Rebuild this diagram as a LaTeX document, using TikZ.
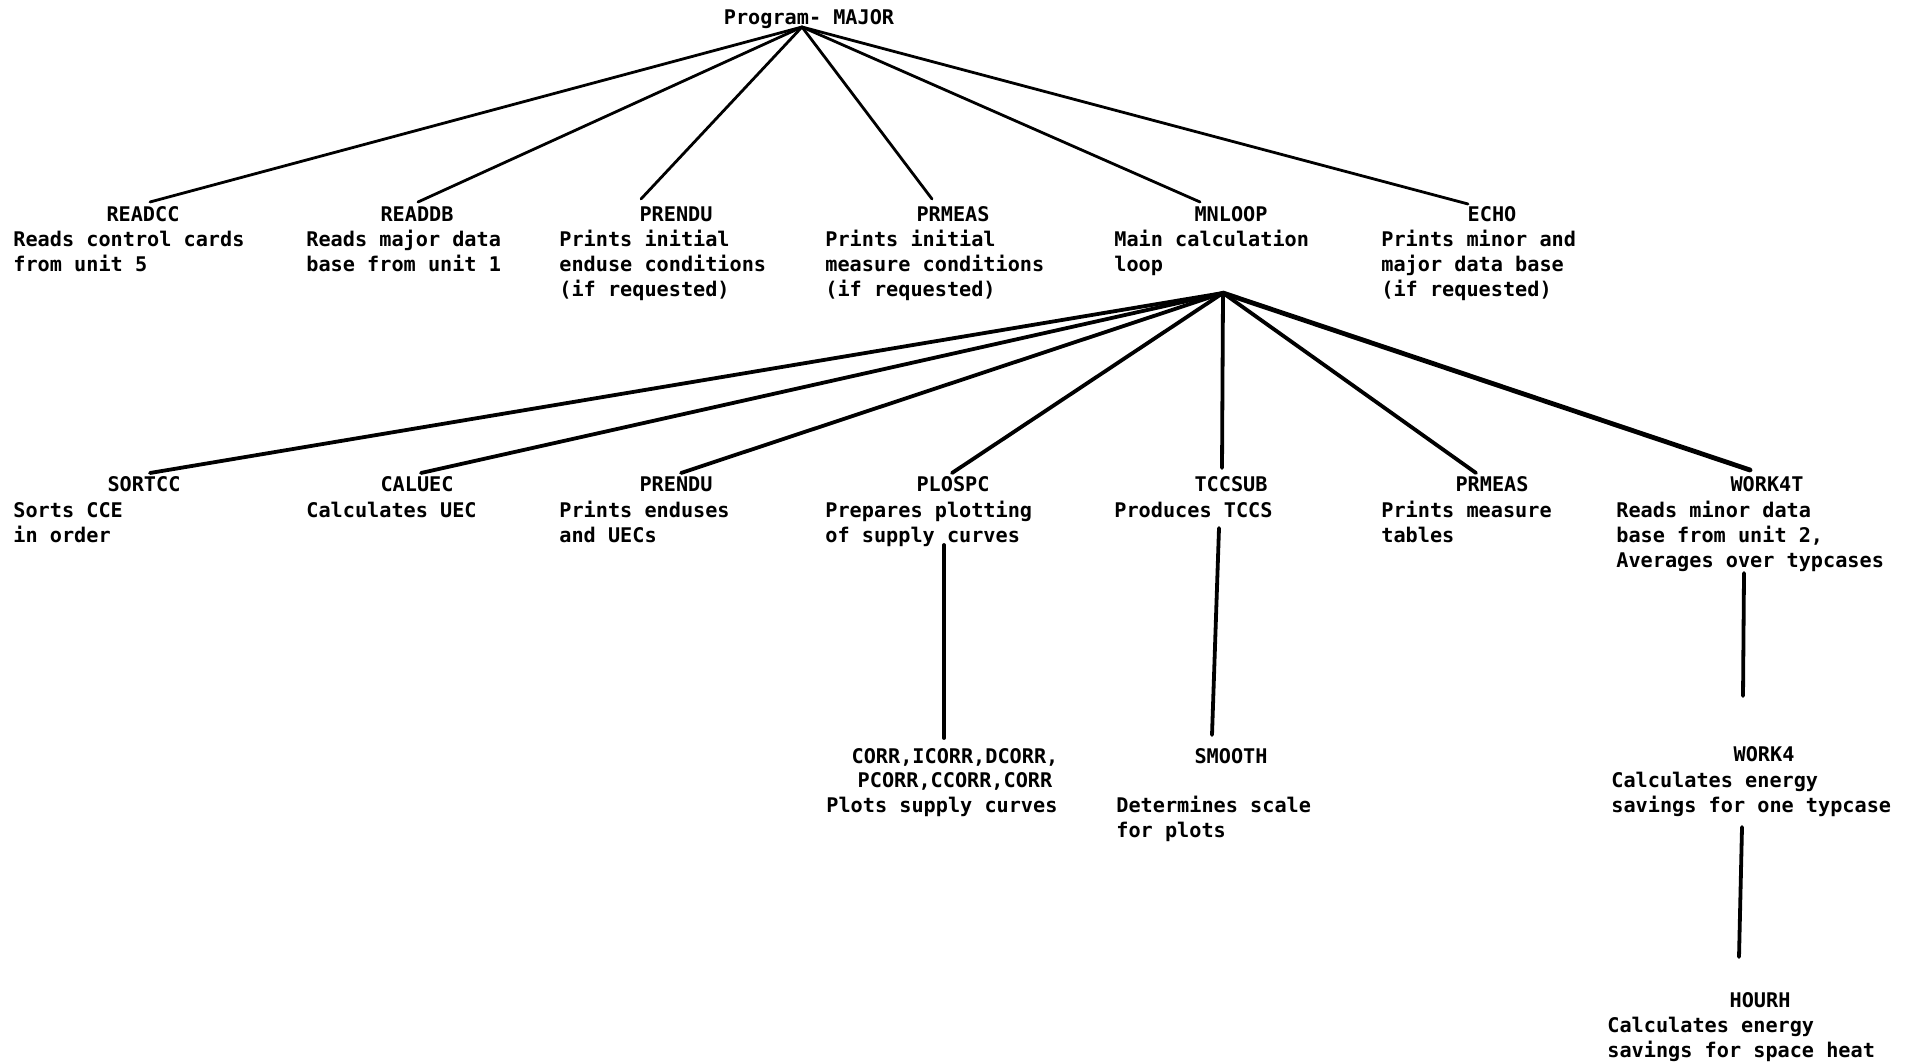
\documentclass[tikz,border=0pt]{standalone}
\usepackage{fontspec}
\setmonofont{DejaVu Sans Mono}
\newcommand\ml[1]{\vtop{\baselineskip=12.5pt\lineskiplimit=-50pt\lineskip=0pt\halign{##\hfil\cr#1\crcr}}}
\newcommand\mlc[1]{\vtop{\baselineskip=12.2pt\lineskiplimit=-50pt\lineskip=0pt\halign{\hfil##\hfil\cr#1\crcr}}}
\begin{document}
\begin{tikzpicture}[x=0.5pt,y=-0.5pt,
  font=\ttfamily\bfseries\fontsize{10.1pt}{12.5pt}\selectfont,
  ttl/.style={anchor=base, inner sep=0pt},
  dsc/.style={anchor=base west, inner sep=0pt},
  conn/.style={line width=1.4pt, line cap=round},
  connb/.style={line width=1.9pt, line cap=round}]
\fill[white] (0,0) rectangle (1915,1063);
\useasboundingbox (0,0) rectangle (1915,1063);

% root
\node[ttl] (major) at (809,25) {Program- MAJOR};
\coordinate (pA) at (802,27);

% level 1
\node[ttl] (readcc) at (143,222) {READCC};
\node[dsc] (readccd) at (13,247) {\ml{Reads control cards\cr from unit 5}};
\node[ttl] (readdb) at (417,222) {READDB};
\node[dsc] (readdbd) at (306,247) {\ml{Reads major data\cr base from unit 1}};
\node[ttl] (prendu) at (676,222) {PRENDU};
\node[dsc] (prendud) at (559,247) {\ml{Prints initial\cr enduse conditions\cr (if requested)}};
\node[ttl] (prmeas) at (953,222) {PRMEAS};
\node[dsc] (prmeasd) at (825,247) {\ml{Prints initial\cr measure conditions\cr (if requested)}};
\node[ttl] (mnloop) at (1231,222) {MNLOOP};
\node[dsc] (mnloopd) at (1114,247) {\ml{Main calculation\cr loop}};
\node[ttl] (echo) at (1492,222) {ECHO};
\node[dsc] (echod) at (1381,247) {\ml{Prints minor and\cr major data base\cr (if requested)}};

\coordinate (e-readcc) at (150,202);
\coordinate (e-readdb) at (418,202);
\coordinate (e-prendu) at (641,199);
\coordinate (e-prmeas) at (932,199);
\coordinate (e-mnloop) at (1200,202);
\coordinate (e-echo) at (1468,204);
\foreach \e in {readcc,readdb,prendu,prmeas,mnloop,echo}
  \draw[conn] (pA) -- (e-\e);

% level 2
\coordinate (pM) at (1223,293);
\node[ttl] (sortcc) at (144,492) {SORTCC};
\node[dsc] (sortccd) at (13,517) {\ml{Sorts CCE\cr in order}};
\node[ttl] (caluec) at (417,492) {CALUEC};
\node[dsc] (caluecd) at (306,517) {\ml{Calculates UEC}};
\node[ttl] (prendub) at (676,492) {PRENDU};
\node[dsc] (prendubd) at (559,517) {\ml{Prints enduses\cr and UECs}};
\node[ttl] (plospc) at (953,492) {PLOSPC};
\node[dsc] (plospcd) at (825,517) {\ml{Prepares plotting\cr of supply curves}};
\node[ttl] (tccsub) at (1231,492) {TCCSUB};
\node[dsc] (tccsubd) at (1114,517) {\ml{Produces TCCS}};
\node[ttl] (prmeasb) at (1492,492) {PRMEAS};
\node[dsc] (prmeasbd) at (1381,517) {\ml{Prints measure\cr tables}};
\node[ttl] (work4t) at (1767,492) {WORK4T};
\node[dsc] (work4td) at (1616,517) {\ml{Reads minor data\cr base from unit 2,\cr Averages over typcases}};

\coordinate (e-sortcc) at (150,473);
\coordinate (e-caluec) at (421,473);
\coordinate (e-prendub) at (681,473);
\coordinate (e-plospc) at (952,473);
\coordinate (e-tccsub) at (1222,468);
\coordinate (e-prmeasb) at (1476,473);
\coordinate (e-work4t) at (1750,470);
\foreach \e in {sortcc,caluec,prendub,plospc,tccsub,prmeasb}
  \draw[connb] (pM) -- (e-\e);
\draw[line width=2.4pt, line cap=round] (pM) -- (e-work4t);

% level 3
\node[ttl] (corr) at (955,763) {\mlc{CORR,ICORR,DCORR,\cr PCORR,CCORR,CORR}};
\node[dsc] (corrd) at (826,812) {\ml{Plots supply curves}};
\node[ttl] (smooth) at (1231,763) {SMOOTH};
\node[dsc] (smoothd) at (1116,812) {\ml{Determines scale\cr for plots}};
\node[ttl] (work4) at (1764,761) {WORK4};
\node[dsc] (work4d) at (1611,787) {\ml{Calculates energy\cr savings for one typcase}};
\node[ttl] (hourh) at (1760,1007) {HOURH};
\node[dsc] (hourhd) at (1607,1032) {\ml{Calculates energy\cr savings for space heat}};

\coordinate (s-plospc) at (944,545);
\coordinate (t-corr) at (944,738);
\coordinate (s-tccsub) at (1219,528);
\coordinate (t-smooth) at (1212,735);
\coordinate (s-work4t) at (1744,573);
\coordinate (t-work4) at (1743,696);
\coordinate (s-work4) at (1742,827);
\coordinate (t-hourh) at (1739,957);
\draw[connb] (s-plospc) -- (t-corr);
\draw[connb] (s-tccsub) -- (t-smooth);
\draw[connb] (s-work4t) -- (t-work4);
\draw[connb] (s-work4) -- (t-hourh);
\end{tikzpicture}
\end{document}
